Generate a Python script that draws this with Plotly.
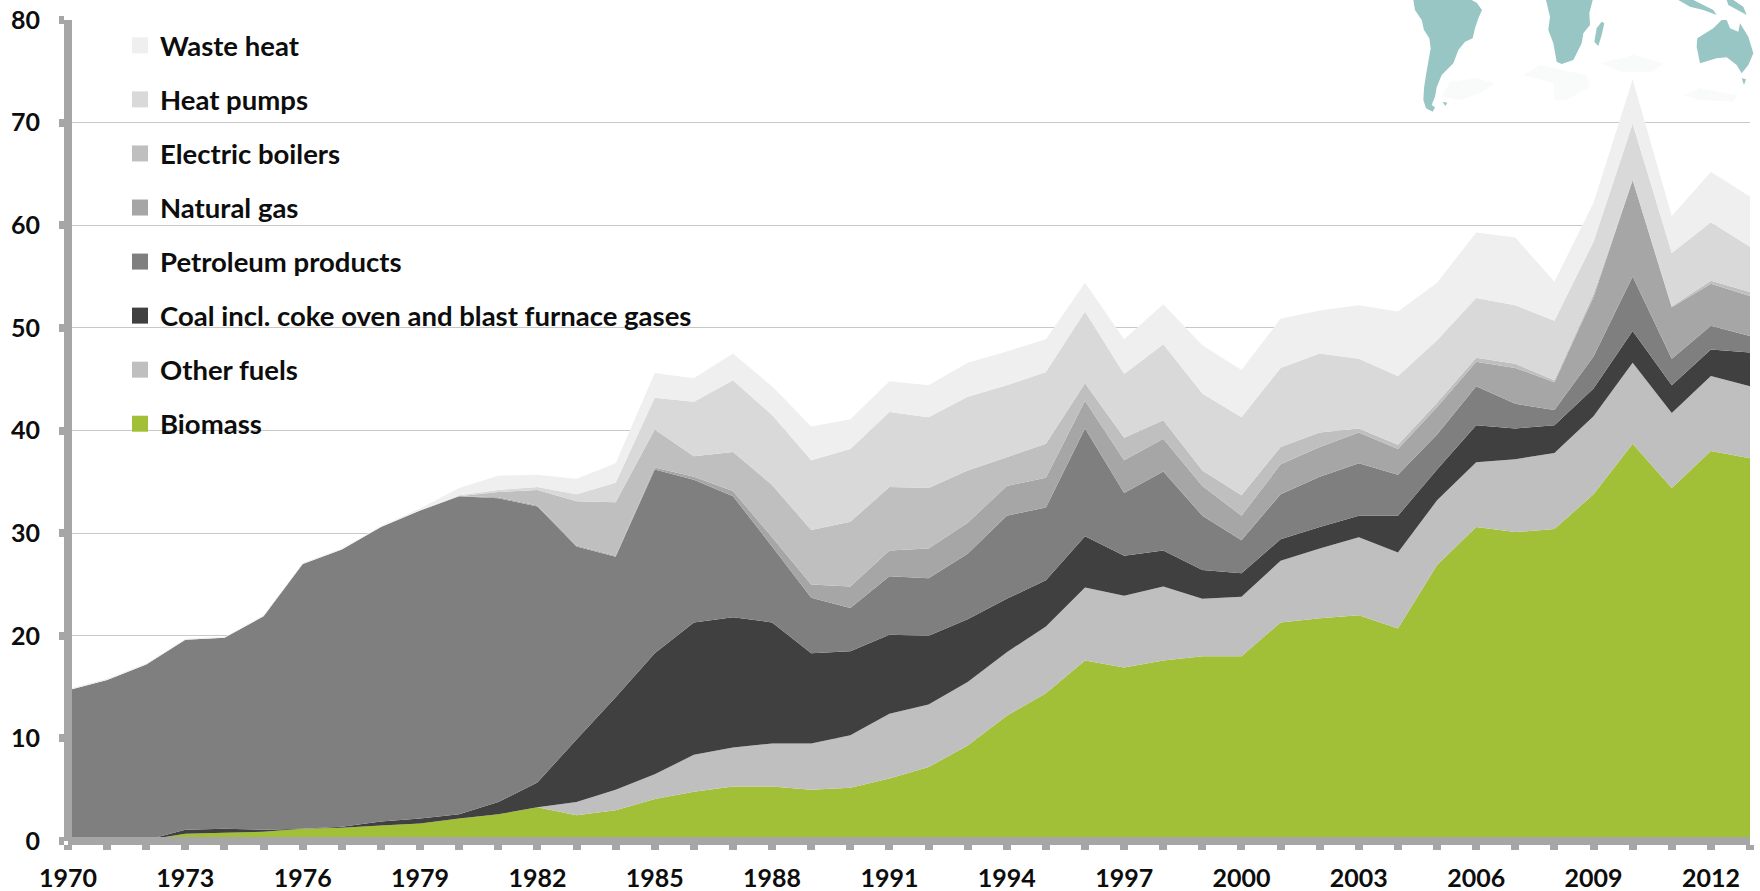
import plotly.graph_objects as go

years = list(range(1970, 2014))
tick_text = [str(y) if (y - 1970) % 3 == 0 else "" for y in years]
y_ticks = [0, 10, 20, 30, 40, 50, 60, 70, 80]

biomass = [0,0,0.1,0.7,0.8,0.9,1.2,1.3,1.5,1.7,2.2,2.6,3.3,2.5,3.0,4.1,4.8,5.3,5.3,5.0,5.2,6.1,7.2,9.3,12.2,14.4,17.6,16.9,17.6,18.0,18.0,21.3,21.7,22.0,20.7,26.9,30.6,30.1,30.4,33.8,38.7,34.4,38.0,37.3]
other_fuels = [0,0,0,0,0,0,0,0,0,0,0,0,0,1.3,2.0,2.4,3.6,3.8,4.2,4.5,5.1,6.3,6.1,6.2,6.2,6.5,7.1,7.0,7.2,5.6,5.8,6.0,6.8,7.6,7.4,6.3,6.3,7.1,7.4,7.6,7.9,7.3,7.3,7.0]
coal = [0,0,0,0.4,0.4,0.2,0,0.1,0.4,0.5,0.4,1.2,2.4,6.1,9.0,11.8,12.9,12.7,11.8,8.8,8.2,7.7,6.7,6.1,5.2,4.5,5.0,3.9,3.5,2.8,2.3,2.1,2.1,2.1,3.6,3.0,3.6,3.0,2.7,2.7,3.1,2.7,2.6,3.3]
petroleum = [14.7,15.7,17.1,18.5,18.6,20.8,25.8,27.0,28.7,30.0,31.0,29.6,26.9,18.8,13.7,17.9,13.9,11.8,7.4,5.4,4.2,5.7,5.6,6.4,8.1,7.1,10.5,6.1,7.7,5.3,3.2,4.4,4.9,5.1,4.0,3.4,3.8,2.4,1.5,3.1,5.3,2.6,2.3,1.6]
natural_gas = [0,0,0,0,0,0,0,0,0,0,0,0.1,0.1,0.1,0.1,0.2,0.3,0.5,0.9,1.3,2.1,2.5,2.9,3.0,2.9,2.9,2.7,3.2,3.2,2.9,2.4,2.9,2.9,3.0,2.5,2.7,2.4,3.5,2.7,5.8,9.4,5.0,4.1,3.9]
electric_boilers = [0,0,0,0,0,0,0,0,0,0,0,0.5,1.5,4.3,5.2,3.7,2.0,3.8,5.1,5.3,6.3,6.2,5.9,5.1,2.8,3.3,1.7,2.2,1.8,1.5,2.0,1.7,1.4,0.4,0.4,0.4,0.4,0.4,0.2,0.3,0,0.1,0.3,0.4]
heat_pumps = [0,0,0,0,0,0,0,0,0,0,0.1,0.2,0.3,0.7,1.9,3.1,5.3,7.0,6.8,6.8,7.1,7.3,6.9,7.2,7.0,7.0,7.0,6.2,7.4,7.5,7.6,7.7,7.7,6.8,6.7,6.1,5.8,5.7,5.8,5.1,5.5,5.2,5.7,4.4]
waste_heat = [0.1,0.1,0.1,0.1,0.1,0.1,0.1,0.1,0.1,0.2,0.7,1.4,1.2,1.5,1.9,2.4,2.3,2.6,2.8,3.3,2.9,3.0,3.1,3.3,3.3,3.2,2.8,3.4,3.9,4.7,4.6,4.8,4.2,5.2,6.3,5.6,6.4,6.6,3.8,3.8,4.3,3.6,4.9,4.9]

series_names = ["Biomass", "Other fuels", "Coal incl. coke oven and blast furnace gases",
                "Petroleum products", "Natural gas", "Electric boilers", "Heat pumps", "Waste heat"]
series_values = [biomass, other_fuels, coal, petroleum, natural_gas, electric_boilers, heat_pumps, waste_heat]
series_colors = ["#a2c037", "#bfbfbf", "#404040", "#7f7f7f", "#a6a6a6", "#bfbfbf", "#d9d9d9", "#efefef"]

W, H = 1760, 891
FONT = "Lato"
INK = "#0d0d0d"
AXIS = "#a6a6a6"

fig = go.Figure()
for name, vals, col in zip(series_names, series_values, series_colors):
    fig.add_trace(go.Scatter(x=years, y=vals, name=name, mode="none", stackgroup="one",
                             fillcolor=col, showlegend=False, hoverinfo="x+y+name"))

# legend entries, top to bottom, as square swatches
for name, col in zip(reversed(series_names), reversed(series_colors)):
    fig.add_trace(go.Scatter(x=[None], y=[None], name=name, mode="markers", legendgroup=name,
                             marker=dict(symbol="square", size=16, color=col)))

# world-map backdrop, pixel outlines from the reference crop
def px_path(points):
    pts = [(1300 + x / 3, y / 3) for x, y in points]
    s = ""
    for i, (x, y) in enumerate(pts):
        s += ("M" if i == 0 else "L") + f"{(x - 68) / (1750 - 68):.5f},{1 - (y - 20) / 821:.5f} "
    return s + "Z"

faint_shapes = [
    [(425,290),(450,245),(530,235),(585,250),(540,280),(480,300)],
    [(670,225),(720,195),(860,225),(870,260),(800,300),(765,300),(760,250)],
    [(900,190),(1000,165),(1090,190),(1060,215),(960,215)],
    [(1150,285),(1200,265),(1310,285),(1300,305),(1200,300)],
]
map_shapes = [
    [(340,0),(345,30),(365,60),(372,90),(388,115),(392,145),(385,185),(378,225),(372,265),(370,300),(378,325),(398,335),(405,322),(395,315),(405,290),(410,262),(425,225),(445,205),(460,190),(475,150),(495,125),(518,115),(525,85),(535,55),(546,30),(530,8),(515,0)],
    [(738,0),(750,50),(745,90),(760,130),(770,185),(785,192),(820,180),(845,130),(850,100),(870,75),(868,40),(878,0)],
    [(905,65),(890,85),(883,125),(895,138),(905,105),(913,70)],
    [(1265,60),(1240,85),(1192,115),(1190,140),(1200,190),(1250,175),(1280,172),(1310,195),(1325,220),(1345,195),(1360,160),(1345,110),(1320,70),(1315,95),(1290,85),(1280,60)],
    [(1325,235),(1338,238),(1332,255)],
    [(1135,0),(1170,20),(1210,30),(1250,45),(1240,30),(1180,0)],
    [(1285,15),(1340,45),(1330,20),(1300,0),(1280,0)],
    [(428,305),(442,308),(436,318)],
]
shapes = [dict(type="path", xref="paper", yref="paper", path=px_path(p), fillcolor="#f8fbfa",
               line=dict(width=0), layer="below") for p in faint_shapes]
shapes += [dict(type="path", xref="paper", yref="paper", path=px_path(p), fillcolor="#97c6c4",
                line=dict(width=0), layer="below") for p in map_shapes]

fig.update_layout(
    width=W, height=H, autosize=False,
    paper_bgcolor="white", plot_bgcolor="rgba(0,0,0,0)",
    margin=dict(l=68, r=10, t=20, b=50, autoexpand=False),
    shapes=shapes,
    font=dict(family=FONT, color=INK),
    legend=dict(x=(120 - 68) / 1682, y=0.9988, xanchor="left", yanchor="top",
                bgcolor="rgba(0,0,0,0)", borderwidth=0, tracegroupgap=15.3,
                font=dict(family=FONT, size=27.5, color=INK, weight="bold"),
                traceorder="grouped", itemwidth=30),
    xaxis=dict(range=[1970, 2013], tickmode="array", tickvals=years, ticktext=tick_text,
               automargin=False,
               showgrid=False, zeroline=False, anchor="free", position=0,
               showline=True, linecolor=AXIS, linewidth=8, ticks="outside", ticklen=5, tickwidth=8,
               tickcolor=AXIS, tickangle=0, ticklabelstandoff=7,
               tickfont=dict(family=FONT, size=25, color=INK, weight="bold")),
    yaxis=dict(range=[0, 80], tickmode="array", tickvals=y_ticks, automargin=False,
               showgrid=True, gridcolor="#c8c8c8", gridwidth=1.2, zeroline=False,
               anchor="free", position=0,
               showline=True, linecolor=AXIS, linewidth=8, ticks="outside", ticklen=5, tickwidth=8,
               tickcolor=AXIS, ticklabelstandoff=14,
               tickfont=dict(family=FONT, size=25, color=INK, weight="bold")),
)
# the default page body has an 8px margin; remove it so the figure fills the window exactly
fig.write_html("out.html", config=dict(displayModeBar=False),
               post_script="document.body.style.margin='0';")
